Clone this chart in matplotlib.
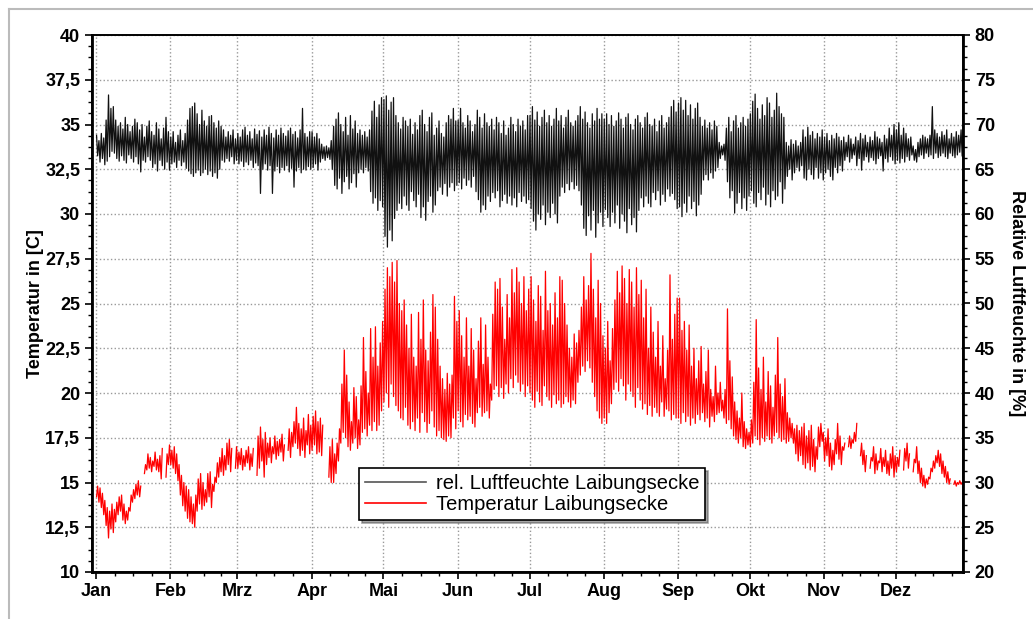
import numpy as np
import matplotlib
matplotlib.use("Agg")
import matplotlib.pyplot as plt
from matplotlib.lines import Line2D

plt.rcParams['font.family'] = ['Liberation Sans', 'DejaVu Sans']

months = ["Jan", "Feb", "Mrz", "Apr", "Mai", "Jun", "Jul", "Aug", "Sep", "Okt", "Nov", "Dez"]
month_start = [0, 31, 59, 90, 120, 151, 181, 212, 243, 273, 304, 334]

# daily maximum / minimum temperature [C], one list per month (None = no data)
temp_hi = [
    [14.8,14.7,14.4,14.0,13.6,13.4,13.8,13.5,13.9,14.2,14.3,13.8,13.4,13.6,14.3,14.6,14.9,15.1,14.8,None,16.0,16.6,16.4,16.2,16.7,16.3,16.5,16.9,None,16.6,17.1],
    [16.8,17.0,16.6,16.0,15.4,15.0,14.8,14.6,14.2,13.8,14.3,15.2,15.5,15.0,14.6,15.5,15.6,14.9,15.3,16.1,16.4,16.9,16.5,17.2,17.4,16.9,None,17.0],
    [16.7,16.9,16.5,16.8,17.0,16.6,16.9,None,17.6,18.1,17.4,17.8,17.2,17.5,17.0,17.6,17.3,17.4,17.7,17.1,None,18.0,17.8,18.4,19.2,18.3,18.0,18.6,17.9,18.8,18.2],
    [18.7,19.0,18.4,18.6,18.2,None,None,17.0,17.4,16.6,17.2,18.0,20.5,22.4,21.0,19.5,18.4,20.3,19.8,18.5,20.4,23.1,21.2,20.0,23.6,22.0,23.7,21.5,22.8,24.0],
    [25.8,27.0,26.5,27.3,26.2,27.4,25.0,24.6,25.2,23.8,22.5,24.4,22.0,21.5,24.5,23.0,25.2,22.4,21.8,23.4,25.5,24.8,23.0,21.5,20.8,20.2,21.1,20.5,21.0,25.4,24.0],
    [24.6,23.2,22.0,24.2,21.5,23.6,22.4,20.8,22.9,24.2,21.6,23.8,22.0,20.5,24.4,26.2,25.8,26.4,24.8,23.0,25.5,24.2,26.9,25.6,27.0,26.2,25.0,26.5,24.6,25.8],
    [26.5,25.2,24.0,26.0,25.4,23.5,26.8,24.6,25.0,23.8,25.6,24.2,26.5,26.3,25.0,23.8,22.5,22.0,23.3,22.8,23.5,24.8,26.5,25.2,26.0,27.8,25.8,24.2,26.3,25.0,23.2],
    [22.5,24.0,21.8,23.6,25.2,26.8,25.6,27.1,26.4,25.0,26.9,26.2,24.8,27.0,25.5,26.3,24.2,25.8,22.5,24.8,23.4,22.0,24.0,21.5,23.2,20.8,22.4,26.6,23.0,24.4,25.3],
    [25.3,23.5,24.0,22.4,23.8,21.5,22.5,20.8,21.8,22.6,20.5,21.2,22.4,20.2,19.8,21.5,20.0,20.6,19.6,20.2,24.7,21.8,20.9,19.5,19.0,18.6,20.0,18.4,18.0,17.8],
    [18.5,20.6,24.1,21.4,20.2,22.0,19.5,21.2,20.4,19.2,21.0,23.1,20.5,19.8,20.8,18.9,18.6,18.3,18.0,18.2,17.9,18.1,18.3,17.6,17.9,18.2,17.4,17.0,18.1,18.3,17.8],
    [17.5,18.0,17.2,16.8,17.4,18.3,17.6,17.0,17.2,None,17.6,17.4,17.8,18.3,None,17.2,16.8,16.5,None,16.4,17.0,16.6,16.2,16.9,16.4,16.8,16.2,16.6,17.0,16.5],
    [16.4,16.8,None,16.9,17.2,16.6,None,16.3,17.0,16.2,15.8,15.4,15.2,15.3,15.8,16.2,16.5,16.8,16.6,16.2,15.9,15.6,15.2,None,15.1,15.0,15.1,15.0],
]
temp_lo = [
    [14.2,13.9,13.6,13.2,12.6,11.9,12.4,12.2,12.8,13.2,13.4,12.9,12.7,12.9,13.4,13.9,14.1,14.3,14.2,None,15.5,15.7,15.8,15.6,15.9,15.7,15.6,15.2,None,15.3,16.0],
    [16.0,15.8,15.5,15.1,14.3,13.7,13.4,13.0,12.8,12.7,12.5,13.4,13.8,13.5,13.7,13.9,14.2,13.6,14.5,15.0,15.3,15.6,15.4,15.7,16.0,15.6,None,15.8],
    [15.8,16.0,15.7,15.9,16.1,15.7,15.9,None,15.4,15.8,16.2,15.3,16.0,16.4,16.1,16.6,16.3,16.5,16.7,16.2,None,16.8,16.4,17.0,17.2,16.9,16.5,16.8,16.4,17.1,16.6],
    [16.8,17.1,16.6,16.7,16.5,None,None,15.3,15.0,15.0,15.5,16.2,17.2,17.8,17.5,17.0,16.8,17.2,17.5,16.9,17.1,17.8,18.0,17.6,18.2,17.9,18.4,17.9,18.2,19.0],
    [19.5,20.0,19.2,20.5,19.8,19.3,19.0,18.6,18.5,19.2,18.2,18.0,18.4,17.9,18.6,17.8,18.9,18.4,17.8,18.3,19.0,18.1,17.6,17.9,17.5,17.4,17.3,17.6,17.5,18.6,18.0],
    [19.0,18.4,18.1,18.8,18.5,18.7,18.3,18.1,18.9,19.2,18.7,18.9,19.0,18.6,19.6,20.2,20.4,19.8,20.3,19.7,20.5,20.0,20.8,20.3,21.0,20.6,20.1,20.5,19.8,20.4],
    [20.0,19.6,19.2,20.1,19.5,19.3,20.4,19.8,19.6,19.2,19.9,19.4,19.6,19.2,19.4,19.8,19.5,19.2,19.6,19.4,20.6,21.0,21.5,21.2,21.8,21.4,20.6,19.8,19.0,18.6,18.3],
    [18.6,18.3,18.9,19.4,20.2,20.6,20.1,20.8,20.4,19.6,20.5,20.1,19.8,19.2,20.3,19.6,19.1,19.4,18.8,19.3,18.7,19.2,18.9,18.7,19.5,18.7,19.1,19.0,18.5,18.8,18.6],
    [18.6,18.3,18.9,18.4,18.7,18.2,18.6,18.3,18.8,18.5,18.9,18.4,18.6,18.1,18.7,18.4,18.8,18.9,19.0,18.6,18.3,18.5,18.0,17.6,17.4,17.2,17.5,17.0,16.9,17.1],
    [17.0,17.2,17.6,17.4,17.1,17.5,17.3,17.6,17.4,17.2,17.6,17.8,17.5,17.3,17.4,17.2,17.3,17.5,17.2,16.6,16.2,16.5,16.0,15.8,16.1,15.7,15.9,15.6,16.3,17.0,17.3],
    [16.2,16.5,15.9,15.7,16.0,16.6,16.3,16.0,16.8,None,17.0,16.9,17.2,17.3,None,16.5,16.0,15.6,None,15.8,16.2,15.5,15.7,16.1,15.6,15.9,15.5,15.4,15.8,15.3],
    [15.6,15.9,None,15.7,16.2,15.8,None,15.6,16.1,15.5,15.0,14.8,14.7,14.9,15.2,15.6,15.8,16.1,15.9,15.5,15.3,15.0,14.9,None,14.9,14.8,14.9,14.9],
]

# daily maximum / minimum relative humidity [%], one list per month
rh_hi = [
    [68.8,68.2,69.0,68.5,70.5,73.3,71.8,72.0,70.5,69.8,70.2,69.5,70.8,70.0,69.2,69.8,70.6,70.2,69.4,70.0,68.6,69.8,70.4,69.2,68.8,70.2,69.5,68.4,69.6,70.8,69.2],
    [68.6,69.2,68.0,68.8,69.4,68.2,69.0,70.5,71.8,72.0,72.4,71.2,70.0,71.6,70.4,69.8,70.9,71.0,70.2,69.6,70.4,69.8,69.4,68.6,69.2,68.8,69.4,68.4],
    [69.0,68.6,69.4,69.7,68.8,69.2,68.4,69.5,68.9,69.3,68.6,69.4,68.8,69.7,69.0,68.5,69.4,68.8,69.6,69.0,68.7,69.3,69.6,68.9,69.2,68.5,69.4,71.8,69.0,68.6,69.2],
    [69.2,68.6,69.0,68.4,67.8,67.5,67.6,67.4,68.2,69.8,70.6,71.3,70.0,69.2,70.8,68.8,71.0,69.5,70.4,69.0,69.4,68.8,69.2,68.6,69.4,71.5,72.6,70.8,72.2,73.0],
    [72.8,73.2,71.6,72.5,73.0,71.0,70.2,69.5,70.8,70.4,69.8,70.6,68.9,70.2,69.4,71.0,71.6,70.0,69.2,70.8,71.3,68.8,69.6,70.4,69.0,68.6,70.2,71.0,70.6,71.8,70.4],
    [70.5,71.8,70.2,69.6,71.0,70.4,69.2,70.0,71.6,70.8,69.6,71.2,70.2,69.8,70.6,69.4,70.8,70.2,69.0,70.4,68.8,69.6,70.8,70.0,69.2,70.6,69.8,70.4,69.4,71.0],
    [71.0,72.0,70.5,71.4,69.8,70.8,71.6,70.2,71.0,69.8,70.6,71.8,70.4,71.0,69.6,70.8,71.6,70.2,69.8,70.4,71.0,72.0,70.6,71.4,70.2,69.6,71.2,70.4,71.8,70.6,71.2],
    [70.6,71.2,70.0,71.0,69.8,70.4,71.3,70.6,69.6,70.8,71.2,70.0,69.4,70.6,71.0,70.2,69.6,70.8,71.3,70.0,69.8,70.6,69.2,70.4,71.0,69.6,70.2,70.8,72.0,72.7,71.4],
    [72.4,73.0,71.6,72.7,71.0,72.2,70.6,71.8,72.4,70.8,69.8,70.5,69.6,70.2,69.4,70.4,69.8,68.0,67.6,67.8,69.6,70.8,69.2,70.4,71.0,69.6,70.2,70.8,69.8,70.6],
    [71.2,72.6,73.4,71.8,70.6,72.2,71.0,73.0,72.4,70.8,71.6,73.5,72.0,71.2,70.8,68.0,67.6,68.3,67.8,68.2,67.6,68.0,69.4,68.6,69.7,68.8,69.2,68.4,69.0,68.6,69.4],
    [68.6,69.0,68.2,68.8,68.4,69.0,68.6,68.2,68.6,68.0,68.8,68.4,67.8,68.6,68.2,69.0,68.4,68.8,68.0,68.6,68.2,69.2,68.6,68.4,68.0,68.8,68.4,69.6,68.8,70.0],
    [69.4,70.2,68.8,69.6,69.0,68.4,68.6,67.6,67.2,68.0,68.4,68.8,68.6,68.4,68.8,72.0,69.4,69.0,68.6,69.2,68.8,69.4,68.4,69.0,68.6,69.2,68.8,69.4],
]
rh_lo = [
    [66.5,65.8,66.2,65.5,65.9,66.4,67.0,66.8,66.2,65.9,66.5,66.0,65.7,66.6,66.2,65.8,66.4,65.6,64.7,66.0,65.8,66.4,66.0,65.2,65.6,64.8,66.0,65.4,65.0,65.8,64.9],
    [65.6,65.8,65.2,66.0,65.4,65.8,65.1,64.8,64.5,64.2,64.6,64.9,64.3,64.6,65.0,64.4,64.8,64.2,64.6,64.0,65.0,66.0,65.8,66.2,65.9,66.4,65.6,66.0],
    [65.6,65.9,65.3,65.8,65.5,66.0,65.2,65.7,65.4,62.3,65.0,65.6,64.9,65.4,62.3,64.8,65.3,64.6,65.2,64.9,65.4,64.7,65.1,63.0,64.8,65.2,64.6,65.0,64.9,65.3,65.0],
    [65.2,65.6,64.9,65.8,66.2,66.0,66.3,66.1,65.0,63.2,62.8,64.0,62.3,63.6,64.2,62.8,63.5,64.5,63.0,64.6,65.0,64.6,65.2,64.8,62.5,61.2,61.8,60.4,61.5,60.8],
    [57.5,56.3,58.2,57.0,59.5,60.4,61.2,60.6,62.0,61.0,60.4,62.5,61.5,60.8,62.2,59.6,60.8,59.3,61.4,62.0,60.2,61.0,62.6,63.0,62.2,63.4,62.0,63.0,63.5,62.6,63.2],
    [63.5,62.8,64.0,63.2,63.8,63.0,64.2,62.5,61.6,60.2,61.0,60.5,62.0,61.4,62.4,61.8,62.6,60.8,61.5,62.2,61.2,62.0,61.0,61.8,60.8,62.4,61.4,62.0,61.2,61.6],
    [60.6,59.2,58.2,60.0,59.4,61.0,58.8,60.2,59.6,61.2,60.0,59.0,62.0,63.0,62.4,63.4,62.7,63.6,62.8,63.2,62.6,61.0,58.4,57.6,59.8,58.2,60.4,57.4,59.0,60.2,58.6],
    [60.5,59.6,58.6,60.2,59.0,61.0,58.4,60.0,59.2,57.9,60.6,58.8,59.6,58.0,60.4,61.8,60.8,62.0,61.2,60.8,62.4,61.6,62.6,61.0,62.2,61.4,62.8,62.0,62.3,61.6,60.6],
    [60.8,59.7,61.2,60.2,62.0,60.6,61.4,59.8,61.0,62.2,63.8,64.4,63.8,64.6,64.0,64.8,65.2,66.2,66.6,66.0,63.6,61.8,62.6,60.1,61.2,62.4,60.6,61.8,60.4,62.0],
    [62.6,61.2,60.8,62.4,61.6,63.0,61.0,62.2,60.8,62.6,61.6,62.0,63.6,61.2,62.8,64.2,65.0,63.8,64.6,65.2,64.8,65.4,64.0,63.8,65.0,64.4,63.9,65.2,64.0,64.6,63.8],
    [64.6,65.0,64.2,63.8,65.2,64.6,65.4,64.8,66.0,66.4,65.8,66.2,66.6,65.4,66.2,64.9,66.0,66.4,65.8,66.3,66.0,65.6,66.2,66.5,64.8,66.2,65.8,66.4,66.0,65.6],
    [66.0,65.7,66.2,65.8,66.4,66.0,66.6,66.0,65.8,66.4,66.6,66.2,66.8,66.4,66.6,66.2,66.8,66.3,66.5,66.8,66.4,66.2,66.8,66.5,66.3,66.6,66.9,66.5],
]


def day_cycle(first, second):
    # two readings per day: early morning and afternoon
    t, v = [], []
    for start, a_month, b_month in zip(month_start, first, second):
        for i, (a, b) in enumerate(zip(a_month, b_month)):
            t += [start + i + 0.2, start + i + 0.65]
            v += [np.nan if a is None else a, np.nan if b is None else b]
    return np.array(t), np.array(v)


t_temp, v_temp = day_cycle(temp_lo, temp_hi)
t_rh, v_rh = day_cycle(rh_hi, rh_lo)

fig = plt.figure(figsize=(10.33, 6.19), dpi=100)
ax1 = fig.add_axes([92/1033, 47/619, 871/1033, 537/619])
ax2 = ax1.twinx()

ax1.plot(t_temp, v_temp, color='#ff0000', lw=0.9)
ax2.plot(t_rh, v_rh, color='#111111', lw=0.9)

ax1.set_xlim(-1.7, 362)
ax1.set_ylim(10, 40)
ax2.set_ylim(20, 80)

ax1.set_yticks(np.arange(10, 40.1, 2.5))
ax1.set_yticklabels([("%g" % v).replace('.', ',') for v in np.arange(10, 40.1, 2.5)])
ax1.set_yticks(np.arange(10, 40.1, 0.625), minor=True)
ax2.set_yticks(np.arange(20, 80.1, 5))
ax2.set_yticks(np.arange(20, 80.1, 1.25), minor=True)

month_len = [31, 28, 31, 30, 31, 30, 31, 31, 30, 31, 30, 31]
ax1.set_xticks(month_start)
ax1.set_xticklabels(months)
ax1.set_xticks([s + q * l / 4 for s, l in zip(month_start, month_len) for q in range(1, 4)
                if s + q * l / 4 < 362], minor=True)

ax1.grid(True, which='major', color='#999999', ls=':', lw=1.0)
ax1.set_axisbelow(True)

for ax in (ax1, ax2):
    ax.tick_params(which='major', direction='out', length=5, width=1.2, labelsize=13)
    ax.tick_params(which='minor', direction='out', length=3, width=1)
    for lab in ax.get_xticklabels() + ax.get_yticklabels():
        lab.set_fontweight('bold')
    for s in ax.spines.values():
        s.set_linewidth(1.2)
ax1.spines['left'].set_linewidth(2)
ax1.spines['bottom'].set_linewidth(2)
ax2.spines['right'].set_linewidth(2)
ax1.tick_params(axis='x', pad=3)

ax1.set_ylabel("Temperatur in [C]", fontsize=13, fontweight='bold', labelpad=1)
ax2.set_ylabel("Relative Luftfeuchte in [%]", fontsize=13, fontweight='bold',
               rotation=-90, labelpad=22)

handles = [Line2D([], [], color='#555555', lw=1.2), Line2D([], [], color='#ff0000', lw=1.2)]
leg = ax2.legend(handles, ["rel. Luftfeuchte Laibungsecke", "Temperatur Laibungsecke"],
                 loc='lower left', bbox_to_anchor=(0.307, 0.096), fontsize=14.5,
                 frameon=True, fancybox=False, shadow=True, handlelength=3.0,
                 borderpad=0.3, labelspacing=0.1, handletextpad=0.5, borderaxespad=0)
leg.get_frame().set_edgecolor('black')
leg.get_frame().set_linewidth(1.2)

fig.add_artist(Line2D([9/1033, 1], [1 - 9/619, 1 - 9/619], color='#bbbbbb', lw=1.5))
fig.add_artist(Line2D([9/1033, 9/1033], [0, 1 - 9/619], color='#bbbbbb', lw=1.5))

fig.savefig("out.png", dpi=100)
